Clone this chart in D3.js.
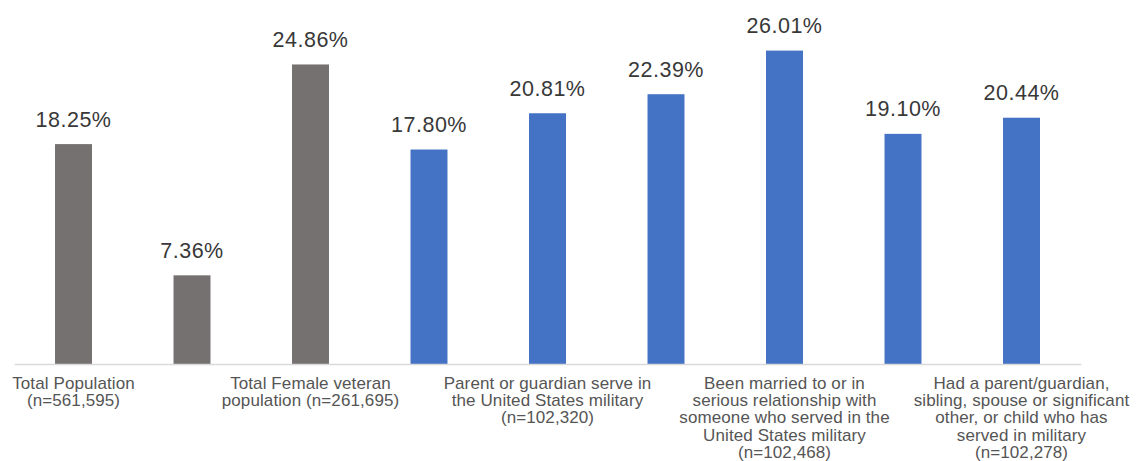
<!DOCTYPE html>
<html>
<head>
<meta charset="utf-8">
<script src="https://cdn.jsdelivr.net/npm/d3@7"></script>
<style>
  html, body { margin: 0; padding: 0; background: #fff; }
  svg { display: block; font-family: "Liberation Sans", Arial, Helvetica, sans-serif; }
</style>
</head>
<body>
<svg id="chart" width="1136" height="461"></svg>
<script>
// Category labels (multi-line; empty where the axis label is not shown)
const categories = [
  ["Total Population", "(n=561,595)"],
  [],
  ["Total Female veteran", "population (n=261,695)"],
  [],
  ["Parent or guardian serve in", "the United States military", "(n=102,320)"],
  [],
  ["Been married to or in", "serious relationship with", "someone who served in the", "United States military", "(n=102,468)"],
  [],
  ["Had a parent/guardian,", "sibling, spouse or significant", "other, or child who has", "served in military", "(n=102,278)"]
];
// Percentage values for each bar
const values = [18.25, 7.36, 24.86, 17.80, 20.81, 22.39, 26.01, 19.10, 20.44];
// Bar group: first three are population benchmarks, rest are survey groups
const groups = ["base", "base", "base", "survey", "survey", "survey", "survey", "survey", "survey"];

const colors = { base: "#767171", survey: "#4472C4" };

const svg = d3.select("#chart");
const baselineY = 364;

const x = d3.scaleBand()
  .domain(d3.range(values.length))
  .range([14.25, 1080.75])
  .paddingInner(0.688)
  .paddingOuter(0.344);

const y = d3.scaleLinear()
  .domain([0, 26.01])
  .range([baselineY, baselineY - 313.4]);

// Bars
svg.append("g")
  .selectAll("rect")
  .data(values)
  .join("rect")
  .attr("x", (d, i) => x(i))
  .attr("y", d => y(d))
  .attr("width", x.bandwidth())
  .attr("height", d => y(0) - y(d))
  .attr("fill", (d, i) => colors[groups[i]]);

// Value labels
svg.append("g")
  .selectAll("text")
  .data(values)
  .join("text")
  .attr("x", (d, i) => x(i) + x.bandwidth() / 2)
  .attr("y", d => y(d) - 17.5)
  .attr("text-anchor", "middle")
  .attr("fill", "#383838")
  .attr("font-size", 21.5)
  .attr("letter-spacing", 0.5)
  .text(d => d.toFixed(2) + "%");

// Category axis
const axis = svg.append("g")
  .attr("transform", `translate(0,${baselineY})`)
  .call(d3.axisBottom(x).tickSize(0).tickSizeOuter(0).tickFormat(""));

axis.select(".domain").attr("stroke", "#d9d9d9").attr("stroke-width", 1.5);

axis.selectAll(".tick text").remove();
axis.selectAll(".tick")
  .append("text")
  .attr("fill", "#555")
  .attr("font-size", 17)
  .attr("text-anchor", "middle")
  .attr("letter-spacing", 0.1)
  .each(function(i) {
    const t = d3.select(this);
    categories[i].forEach((line, k) => {
      t.append("tspan")
        .attr("x", 0)
        .attr("y", 25 + k * 17.2)
        .text(line);
    });
  });
</script>
</body>
</html>
